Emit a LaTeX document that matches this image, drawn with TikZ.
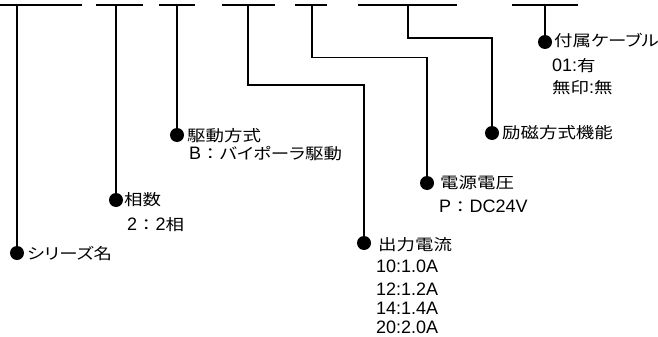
\documentclass[tikz,border=0pt]{standalone}
\usepackage{fontspec}
\setmainfont{Liberation Sans}
\newfontfamily\jpf[FakeStretch=1.19]{Noto Sans CJK JP}
\newfontfamily\jpkf[FakeStretch=1.19,RawFeature=+palt]{Noto Sans CJK JP}
\newcommand\J[1]{{\fontsize{15.5pt}{18pt}\jpf #1}}
\newcommand\K[1]{{\fontsize{15.5pt}{18pt}\jpkf #1}}
\begin{document}
\begin{tikzpicture}[x=1pt,y=-1pt,
  bar/.style={line width=1.3pt},
  lead/.style={line width=1.2pt},
  dot/.style={circle, fill=black, minimum size=14pt, inner sep=0pt},
  lbl/.style={anchor=base west, inner sep=0pt, font=\fontsize{18pt}{20pt}\selectfont}]
\useasboundingbox (0,0) rectangle (658,337);
% bars
\foreach \a/\b/\s/\n in {0/82/17/1, 96/143/116/2, 159/195/177/3, 222/275/248/4, 295/327/312/5, 358/457/408/6, 512/578/545/7}{
  \coordinate (bl\n) at (\a,5);
  \coordinate (br\n) at (\b,5);
  \coordinate (s\n) at (\s,5);
  \draw[bar] (bl\n) -- (br\n);
}
% dots
\node[dot] (d1) at (17,253) {};
\node[dot] (d2) at (116,200) {};
\node[dot] (d3) at (177,135) {};
\node[dot] (d4) at (364,243) {};
\node[dot] (d5) at (427,183) {};
\node[dot] (d6) at (492,133) {};
\node[dot] (d7) at (545,42) {};
% leads
\draw[lead] (s1) -- (d1.center);
\draw[lead] (s2) -- (d2.center);
\draw[lead] (s3) -- (d3.center);
\draw[lead] (s4) -- (248,85) -| (d4.center);
\draw[lead] (s5) -- (312,57.5) -| (d5.center);
\draw[lead] (s6) -- (408,38) -| (d6.center);
\draw[lead] (s7) -- (d7.center);
% labels
\node[lbl] (t1) at (27,259.5) {\K{シリーズ名}};
\node[lbl] (t2) at (124,205.5) {\J{相数}};
\node[lbl] (t2a) at (127,230) {2\J{：}2\J{相}};
\node[lbl] (t3) at (187,141.5) {\J{駆動方式}};
\node[lbl] (t3a) at (189,159) {B\J{：}\K{バイポーラ}\J{駆動}};
\node[lbl] (t5) at (440,188.5) {\J{電源電圧}};
\node[lbl] (t5a) at (439,212) {P\J{：}DC24V};
\node[lbl] (t4) at (378,250) {\J{出力電流}};
\node[lbl] (t4a) at (376,272) {10:1.0A};
\node[lbl] (t4b) at (376,295) {12:1.2A};
\node[lbl] (t4c) at (376,314) {14:1.4A};
\node[lbl, text depth=0pt] (t4d) at (376,333) {20:2.0A};
\node[lbl] (t7) at (554,46.5) {\J{付属}\K{ケーブル}};
\node[lbl] (t7a) at (552,71) {01:\J{有}};
\node[lbl] (t7b) at (552,93.5) {\J{無印}:\J{無}};
\node[lbl] (t6) at (502,138.5) {\J{励磁方式機能}};
\end{tikzpicture}
\end{document}
